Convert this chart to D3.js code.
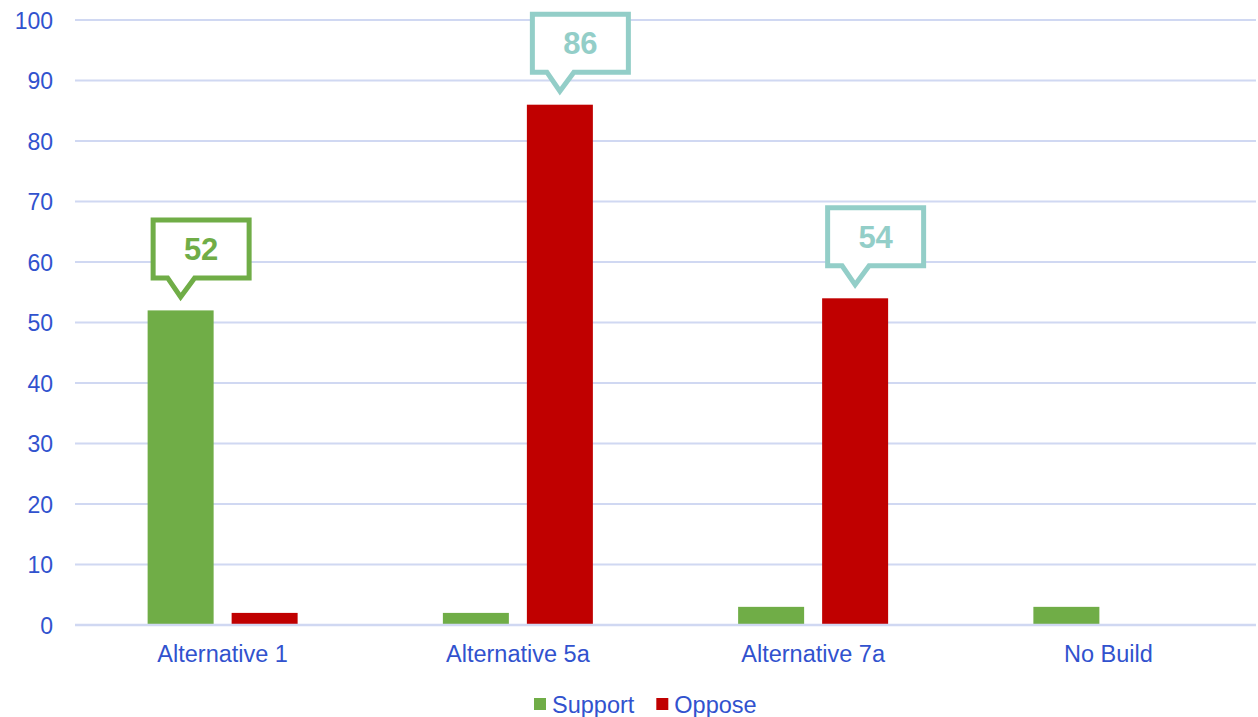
<!DOCTYPE html>
<html>
<head>
<meta charset="utf-8">
<script src="https://cdn.jsdelivr.net/npm/d3@7"></script>
<style>
  html, body { margin: 0; padding: 0; background: #fff; }
  svg { display: block; font-family: "Liberation Sans", Arial, sans-serif; }
</style>
</head>
<body>
<svg id="chart" width="1258" height="717"></svg>
<script>
// ---- data ----
const categories = ["Alternative 1", "Alternative 5a", "Alternative 7a", "No Build"];
const seriesNames = ["Support", "Oppose"];
const supportValues = [52, 2, 3, 3];
const opposeValues = [2, 86, 54, 0];
const yTicks = [0, 10, 20, 30, 40, 50, 60, 70, 80, 90, 100];
const callouts = [
  { category: "Alternative 1", series: "Support", value: 52, color: "#70AD47" },
  { category: "Alternative 5a", series: "Oppose", value: 86, color: "#93CEC8" },
  { category: "Alternative 7a", series: "Oppose", value: 54, color: "#93CEC8" }
];

// ---- styles ----
const seriesColors = { "Support": "#70AD47", "Oppose": "#C00000" };
const textColor = "#3152CE";
const gridColor = "#D0D8F2";

const svg = d3.select("#chart");
const mLeft = 75, mRight = 1256, mTop = 20, mBottom = 625;

const y = d3.scaleLinear().domain([0, 100]).range([mBottom, mTop]);
const x0 = d3.scaleBand().domain(categories).range([mLeft, mRight]).padding(0);
const bw = x0.bandwidth();
const groupW = 150;
const x1 = d3.scaleBand().domain(seriesNames)
  .range([(bw - groupW) / 2, (bw + groupW) / 2]).paddingInner(18 / 84);

const rows = categories.map((c, i) => ({ category: c, Support: supportValues[i], Oppose: opposeValues[i] }));

// gridlines
svg.append("g").selectAll("line").data(yTicks).join("line")
  .attr("x1", mLeft).attr("x2", mRight)
  .attr("y1", d => y(d)).attr("y2", d => y(d))
  .attr("stroke", gridColor).attr("stroke-width", 2);

// y axis labels
const yAxis = d3.axisLeft(y).tickValues(yTicks).tickSize(0).tickPadding(0);
const yg = svg.append("g").attr("transform", `translate(53,0)`).call(yAxis);
yg.select(".domain").remove();
yg.selectAll("text").attr("fill", textColor).style("font-size", "23px")
  .style("font-family", "'Liberation Sans', Arial, sans-serif").attr("dy", "0.35em");

// bars
svg.append("g").selectAll("g").data(rows).join("g")
  .attr("transform", d => `translate(${x0(d.category)},0)`)
  .selectAll("rect").data(d => seriesNames.map(s => ({ s, v: d[s] })).filter(e => e.v > 0)).join("rect")
  .attr("x", d => x1(d.s)).attr("width", x1.bandwidth())
  .attr("y", d => y(d.v)).attr("height", d => y(0) - y(d.v))
  .attr("fill", d => seriesColors[d.s]);

// baseline
svg.append("line").attr("x1", mLeft).attr("x2", mRight)
  .attr("y1", y(0)).attr("y2", y(0)).attr("stroke", gridColor).attr("stroke-width", 2.5);

// x axis labels
const xAxis = d3.axisBottom(x0).tickSize(0).tickPadding(0);
const xg = svg.append("g").attr("transform", `translate(0,${mBottom})`).call(xAxis);
xg.select(".domain").remove();
xg.selectAll("text").attr("fill", textColor).style("font-size", "23.5px")
  .style("font-family", "'Liberation Sans', Arial, sans-serif").attr("y", 37).attr("dy", 0);

// callouts
const cg = svg.append("g");
callouts.forEach(c => {
  const tx = x0(c.category) + x1(c.series) + x1.bandwidth() / 2;
  const ty = y(c.value) - 9;        // pointer tip (outer)
  const sw = 5;
  const bl = tx - 30 + sw / 2, br = tx + 71 - sw / 2;
  const bt = ty - 84 + sw / 2, bb = ty - 21 - sw / 2;
  const path = d3.path();
  path.moveTo(bl, bt);
  path.lineTo(br, bt);
  path.lineTo(br, bb);
  path.lineTo(tx + 14, bb);
  path.lineTo(tx, ty - 4.5);
  path.lineTo(tx - 13, bb);
  path.lineTo(bl, bb);
  path.closePath();
  cg.append("path").attr("d", path.toString())
    .attr("fill", "#fff").attr("stroke", c.color).attr("stroke-width", sw)
    .attr("stroke-linejoin", "miter").attr("stroke-miterlimit", 10);
  cg.append("text").attr("x", (bl + br) / 2).attr("y", (bt + bb) / 2)
    .attr("text-anchor", "middle").attr("dy", "0.36em")
    .attr("fill", c.color).style("font-weight", "bold").style("font-size", "31px")
    .text(c.value);
});

// legend
const lg = svg.append("g");
let lx = 534;
seriesNames.forEach(s => {
  lg.append("rect").attr("x", lx).attr("y", 698).attr("width", 12).attr("height", 12)
    .attr("fill", seriesColors[s]);
  const t = lg.append("text").attr("x", lx + 18).attr("y", 713)
    .attr("fill", textColor).style("font-size", "23.5px").text(s);
  lx = lx + 18 + t.node().getComputedTextLength() + 22;
});
</script>
</body>
</html>
